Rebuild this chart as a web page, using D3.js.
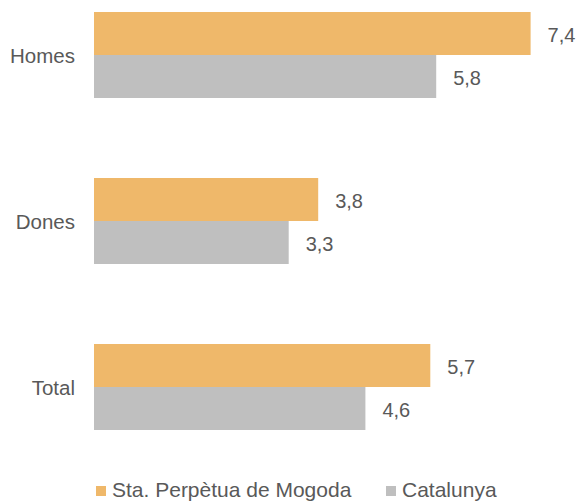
<!DOCTYPE html>
<html>
<head>
<meta charset="utf-8">
<script src="https://cdn.jsdelivr.net/npm/d3@7"></script>
<style>
  html, body { margin: 0; padding: 0; background: #fff; }
  svg { display: block; }
  text { font-family: "Liberation Sans", Arial, Helvetica, sans-serif; fill: #595959; }
</style>
</head>
<body>
<svg id="chart" width="579" height="502"></svg>
<script>
const categories = ["Homes", "Dones", "Total"];
const seriesNames = ["Sta. Perpètua de Mogoda", "Catalunya"];
const santaPerpetua = [7.4, 3.8, 5.7];
const catalunya = [5.8, 3.3, 4.6];
const seriesColors = ["#EFB86A", "#BFBFBF"];

const svg = d3.select("#chart");
const x = d3.scaleLinear().domain([0, 8]).range([94, 566]);
const y0 = d3.scaleBand().domain(categories).range([-28, 470]).paddingInner(80 / 166).paddingOuter(40 / 166);
const y1 = d3.scaleBand().domain(seriesNames).range([0, y0.bandwidth()]);
const fmt = v => d3.format(".1f")(v).replace(".", ",");

const series = [santaPerpetua, catalunya];
const rows = [];
series.forEach((vals, si) => vals.forEach((v, ci) => rows.push({ cat: categories[ci], s: seriesNames[si], si, v })));

svg.selectAll("rect.bar").data(rows).join("rect")
  .attr("class", "bar")
  .attr("x", x(0))
  .attr("y", d => y0(d.cat) + y1(d.s))
  .attr("width", d => x(d.v) - x(0))
  .attr("height", y1.bandwidth())
  .attr("fill", d => seriesColors[d.si]);

svg.selectAll("text.val").data(rows).join("text")
  .attr("class", "val")
  .attr("x", d => x(d.v) + 17)
  .attr("y", d => y0(d.cat) + y1(d.s) + y1.bandwidth() / 2 + 8.5)
  .style("font-size", "20px")
  .text(d => fmt(d.v));

// category axis (labels only)
const yAxis = d3.axisLeft(y0).tickSize(0).tickPadding(19);
const ag = svg.append("g").attr("transform", `translate(${x(0)},0)`).call(yAxis);
ag.select(".domain").remove();
ag.selectAll("text")
  .style("font-size", "20.5px")
  .style("font-family", '"Liberation Sans", Arial, sans-serif')
  .attr("fill", "#595959")
  .attr("dy", "0.38em");

// legend
const legendX = [96, 386];
const lg = svg.append("g");
seriesNames.forEach((name, i) => {
  lg.append("rect").attr("x", legendX[i]).attr("y", 486).attr("width", 10).attr("height", 10).attr("fill", seriesColors[i]);
  lg.append("text").attr("x", legendX[i] + 16).attr("y", 497).style("font-size", "21px").text(name);
});
</script>
</body>
</html>
